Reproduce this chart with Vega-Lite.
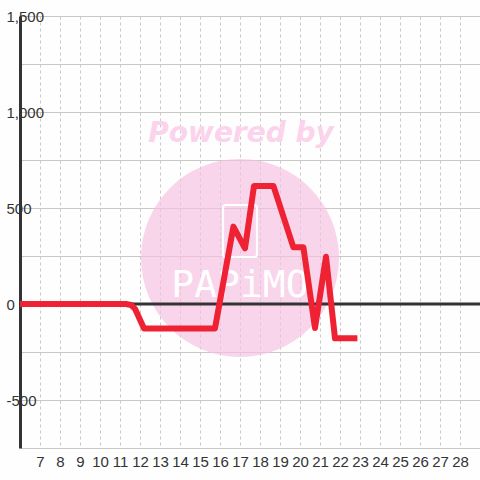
{
  "$schema": "https://vega.github.io/schema/vega-lite/v6.json",
  "width": 460,
  "height": 432,
  "autosize": {"type": "none"},
  "padding": {"left": 20, "top": 16, "right": 0, "bottom": 32},
  "background": "#fdfefd",
  "config": {
    "view": {"stroke": null},
    "font": "Liberation Sans"
  },
  "datasets": {
    "series": [
      {"x": 6, "y": 0},
      {"x": 11.3, "y": 0},
      {"x": 11.55, "y": -5},
      {"x": 11.75, "y": -25},
      {"x": 12.2, "y": -127},
      {"x": 15.75, "y": -127},
      {"x": 16.67, "y": 403},
      {"x": 17.25, "y": 290},
      {"x": 17.7, "y": 615},
      {"x": 18.67, "y": 615},
      {"x": 19.67, "y": 295},
      {"x": 20.17, "y": 295},
      {"x": 20.75, "y": -125},
      {"x": 21.3, "y": 246},
      {"x": 21.75, "y": -179},
      {"x": 22.87, "y": -179}
    ],
    "badge": [{"x": 17, "y": 240}],
    "powered": [{"x": 17.05, "y": 885, "label": "Powered by"}],
    "icon": [{"x": 17, "y": 380}],
    "brand": [{"x": 17, "y": 94, "label": "PAPiMO"}],
    "zero": [{"y": 0}]
  },
  "encoding": {
    "x": {
      "field": "x",
      "type": "quantitative",
      "scale": {"domain": [6, 29], "nice": false, "zero": false},
      "axis": {
        "title": null,
        "values": [7,8,9,10,11,12,13,14,15,16,17,18,19,20,21,22,23,24,25,26,27,28],
        "domain": false,
        "ticks": false,
        "labelPadding": 6,
        "labelFontSize": 15,
        "labelColor": "#333333",
        "labelFont": "Liberation Sans",
        "grid": true,
        "gridColor": "#c8c8c8",
        "gridDash": [3, 3],
        "gridWidth": 1
      }
    },
    "y": {
      "field": "y",
      "type": "quantitative",
      "scale": {"domain": [-750, 1500], "nice": false, "zero": false},
      "axis": {
        "title": null,
        "values": [-750, -500, -250, 0, 250, 500, 750, 1000, 1250, 1500],
        "labelExpr": "datum.value === -500 ? '-500' : (datum.value % 500 === 0 ? format(datum.value, ',') : '')",
        "domain": true,
        "domainColor": "#333333",
        "domainWidth": 3,
        "ticks": false,
        "labelAlign": "left",
        "labelPadding": 14,
        "labelBaseline": "middle",
        "labelFontSize": 15,
        "labelColor": "#333333",
        "labelFont": "Liberation Sans",
        "grid": true,
        "gridColor": "#c8c8c8",
        "gridWidth": 1
      }
    }
  },
  "layer": [
    {
      "data": {"name": "badge"},
      "mark": {"type": "point", "shape": "circle", "filled": true, "size": 39204, "color": "#f8bfe2", "opacity": 0.65}
    },
    {
      "data": {"name": "powered"},
      "mark": {"type": "text", "font": "DejaVu Sans", "fontSize": 28, "fontWeight": "bold", "fontStyle": "italic", "color": "#fcd3ec", "align": "center", "baseline": "middle"},
      "encoding": {"text": {"field": "label"}}
    },
    {
      "data": {"name": "icon"},
      "mark": {"type": "point", "shape": "M-0.55,-1 L0.55,-1 Q0.65,-1 0.65,-0.9 L0.65,0.9 Q0.65,1 0.55,1 L-0.55,1 Q-0.65,1 -0.65,0.9 L-0.65,-0.9 Q-0.65,-1 -0.55,-1 Z", "filled": false, "size": 2704, "stroke": "#ffffff", "strokeWidth": 2, "opacity": 1}
    },
    {
      "data": {"name": "brand"},
      "mark": {"type": "text", "font": "DejaVu Sans Mono", "fontSize": 38, "fontWeight": "normal", "color": "#ffffff", "align": "center", "baseline": "middle"},
      "encoding": {"text": {"field": "label"}}
    },
    {
      "data": {"name": "zero"},
      "mark": {"type": "rule", "color": "#333333", "strokeWidth": 3},
      "encoding": {"x": null}
    },
    {
      "data": {"name": "series"},
      "mark": {"type": "line", "color": "#ee2233", "strokeWidth": 6, "strokeJoin": "round", "strokeCap": "butt"}
    }
  ]
}
